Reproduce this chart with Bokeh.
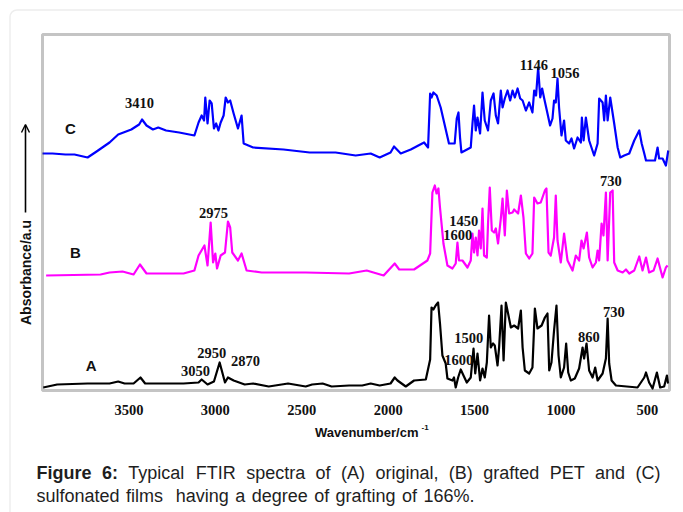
from bokeh.plotting import figure
from bokeh.models import Range1d, Label, Arrow, OpenHead, BoxAnnotation
from bokeh.embed import file_html
from bokeh.resources import INLINE

# ---------------- data (wavenumber cm-1, absorbance a.u., offset spectra) ----------------
wn_C = [4000, 3942, 3867, 3815, 3739, 3687, 3612, 3562, 3486, 3441,
        3424, 3398, 3361, 3330, 3285, 3209, 3121, 3097, 3079, 3065,
        3058, 3045, 3033, 3021, 3008, 2995, 2982, 2969, 2952, 2940,
        2927, 2914, 2894, 2869, 2848, 2836, 2781, 2605, 2454, 2304,
        2188, 2101, 2049, 1986, 1966, 1927, 1869, 1792, 1769, 1757,
        1749, 1738, 1719, 1696, 1648, 1615, 1603, 1593, 1584, 1576,
        1522, 1512, 1503, 1493, 1483, 1468, 1454, 1441, 1422, 1406,
        1390, 1377, 1364, 1348, 1338, 1325, 1309, 1294, 1280, 1267,
        1251, 1236, 1222, 1203, 1184, 1165, 1155, 1144, 1132, 1120,
        1109, 1097, 1078, 1063, 1049, 1040, 1030, 1020, 1011, 997,
        982, 972, 953, 939, 924, 904, 885, 879, 869, 856,
        837, 808, 788, 779, 759, 750, 740, 730, 715, 692,
        672, 657, 634, 605, 576, 547, 533, 518, 508, 476,
        456, 441, 432, 412, 393, 379]
ab_C = [2.37, 2.37, 2.36, 2.36, 2.33, 2.39, 2.48, 2.56, 2.61, 2.66,
        2.71, 2.65, 2.61, 2.63, 2.60, 2.58, 2.55, 2.68, 2.75, 2.70,
        2.93, 2.67, 2.90, 2.87, 2.62, 2.67, 2.60, 2.68, 2.75, 2.93,
        2.88, 2.90, 2.77, 2.62, 2.75, 2.47, 2.43, 2.41, 2.38, 2.38,
        2.35, 2.37, 2.33, 2.38, 2.44, 2.37, 2.41, 2.48, 2.43, 2.97,
        2.93, 2.98, 2.95, 2.83, 2.47, 2.47, 2.72, 2.78, 2.53, 2.38,
        2.43, 2.67, 2.85, 2.60, 2.73, 2.57, 2.98, 2.70, 2.60, 2.90,
        2.97, 2.75, 2.67, 3.00, 2.83, 2.92, 3.00, 2.90, 3.00, 2.93,
        3.02, 2.92, 2.90, 2.80, 2.88, 2.78, 3.00, 2.95, 3.23, 2.93,
        3.02, 2.92, 2.77, 2.65, 2.72, 2.90, 2.88, 3.12, 2.83, 2.55,
        2.70, 2.50, 2.47, 2.52, 2.42, 2.53, 2.48, 2.73, 2.50, 2.73,
        2.50, 2.35, 2.47, 2.92, 2.88, 2.70, 2.95, 2.70, 2.93, 2.67,
        2.43, 2.33, 2.35, 2.37, 2.50, 2.60, 2.47, 2.37, 2.30, 2.30,
        2.30, 2.43, 2.32, 2.32, 2.25, 2.40]

wn_B = [3979, 3664, 3612, 3537, 3473, 3436, 3398, 3184, 3121, 3097,
        3063, 3045, 3027, 3013, 3000, 2990, 2969, 2944, 2927, 2914,
        2902, 2869, 2848, 2819, 2732, 2477, 2226, 2124, 2026, 1962,
        1936, 1850, 1773, 1757, 1744, 1730, 1720, 1709, 1700, 1680,
        1657, 1628, 1609, 1599, 1590, 1570, 1541, 1522, 1512, 1503,
        1493, 1483, 1474, 1464, 1454, 1445, 1429, 1422, 1412, 1400,
        1387, 1377, 1364, 1348, 1338, 1325, 1313, 1300, 1280, 1271,
        1248, 1232, 1217, 1203, 1184, 1165, 1155, 1136, 1117, 1093,
        1084, 1072, 1059, 1040, 1030, 1020, 1001, 982, 962, 933,
        914, 895, 881, 869, 850, 837, 817, 798, 788, 779,
        765, 754, 740, 730, 715, 701, 692, 672, 643, 624,
        605, 576, 547, 528, 508, 490, 464, 441, 412, 393, 383]
ab_B = [1.15, 1.16, 1.18, 1.19, 1.16, 1.26, 1.17, 1.17, 1.20, 1.35,
        1.45, 1.25, 1.68, 1.28, 1.37, 1.22, 1.35, 1.38, 1.69, 1.63,
        1.38, 1.30, 1.37, 1.20, 1.18, 1.18, 1.17, 1.20, 1.15, 1.27,
        1.21, 1.21, 1.30, 1.37, 1.98, 2.05, 1.97, 2.02, 1.83, 1.47,
        1.25, 1.22, 1.27, 1.48, 1.30, 1.30, 1.23, 1.30, 1.57, 1.38,
        1.53, 1.35, 1.60, 1.42, 1.82, 1.35, 1.33, 1.67, 2.03, 1.60,
        1.58, 1.62, 1.47, 1.72, 1.92, 1.55, 2.00, 1.77, 1.78, 1.81,
        1.77, 1.95, 1.73, 1.37, 1.32, 1.37, 1.93, 1.87, 1.88, 2.00,
        2.02, 1.38, 1.35, 1.53, 1.95, 1.50, 1.28, 1.57, 1.30, 1.20,
        1.35, 1.30, 1.50, 1.42, 1.58, 1.33, 1.23, 1.28, 1.40, 1.30,
        1.67, 1.55, 1.98, 1.30, 1.98, 2.00, 1.28, 1.20, 1.18, 1.21,
        1.17, 1.20, 1.34, 1.20, 1.33, 1.18, 1.20, 1.32, 1.13, 1.23, 1.25]

wn_A = [3996, 3915, 3739, 3612, 3562, 3525, 3473, 3433, 3406, 3184,
        3097, 3079, 3045, 3008, 2975, 2958, 2944, 2927, 2894, 2830,
        2781, 2691, 2579, 2477, 2440, 2379, 2327, 2226, 2150, 2101,
        2049, 1986, 1962, 1946, 1898, 1850, 1782, 1757, 1749, 1738,
        1725, 1711, 1700, 1686, 1667, 1657, 1628, 1619, 1609, 1595,
        1580, 1564, 1545, 1522, 1506, 1496, 1483, 1468, 1454, 1441,
        1429, 1416, 1406, 1393, 1383, 1367, 1358, 1344, 1332, 1319,
        1306, 1290, 1271, 1248, 1232, 1222, 1209, 1184, 1165, 1151,
        1136, 1112, 1093, 1078, 1068, 1055, 1040, 1026, 1014, 1001,
        982, 970, 958, 943, 920, 895, 875, 866, 852, 837,
        817, 802, 788, 759, 740, 730, 721, 707, 682, 557,
        518, 508, 490, 470, 445, 426, 403, 387, 380]
ab_A = [0.03, 0.06, 0.07, 0.07, 0.09, 0.07, 0.07, 0.13, 0.07, 0.07,
        0.08, 0.11, 0.06, 0.09, 0.28, 0.17, 0.08, 0.13, 0.10, 0.06,
        0.07, 0.04, 0.07, 0.04, 0.06, 0.07, 0.04, 0.05, 0.05, 0.07,
        0.05, 0.07, 0.13, 0.10, 0.04, 0.10, 0.11, 0.31, 0.83, 0.81,
        0.85, 0.88, 0.67, 0.35, 0.27, 0.12, 0.10, 0.13, 0.03, 0.13,
        0.21, 0.15, 0.08, 0.13, 0.42, 0.17, 0.37, 0.10, 0.22, 0.13,
        0.28, 0.75, 0.43, 0.47, 0.45, 0.25, 0.43, 0.85, 0.30, 0.88,
        0.77, 0.63, 0.65, 0.62, 0.80, 0.43, 0.20, 0.17, 0.23, 0.82,
        0.62, 0.65, 0.73, 0.77, 0.20, 0.28, 0.60, 0.85, 0.35, 0.13,
        0.23, 0.47, 0.18, 0.10, 0.12, 0.22, 0.43, 0.32, 0.47, 0.20,
        0.13, 0.23, 0.10, 0.17, 0.32, 0.72, 0.27, 0.10, 0.05, 0.03,
        0.13, 0.18, 0.08, 0.02, 0.18, 0.03, 0.04, 0.15, 0.07]

x_ticks = [3500, 3000, 2500, 2000, 1500, 1000, 500]
x_tick_labels = ["3500", "3000", "2500", "2000", "1500", "1000", "500"]

# peak annotations: text, wavenumber, a.u.
peak_text = ["3410", "1146", "1056", "2975", "1450", "1600", "730",
             "1500", "1600", "860", "730", "2950", "2870", "3050"]
peak_wn = [3438, 1157, 977, 3010, 1562, 1597, 711,
           1533, 1591, 839, 694, 3021, 2825, 3114]
peak_ab = [2.88, 3.26, 3.18, 1.78, 1.70, 1.56, 2.10,
           0.53, 0.31, 0.54, 0.79, 0.38, 0.30, 0.20]

series_names = ["C", "B", "A"]
series_name_wn = [3838, 3809, 3719]
series_name_ab = [2.62, 1.38, 0.25]

caption_line1 = [("Figure", True), ("6:", True), ("Typical", False), ("FTIR", False),
                 ("spectra", False), ("of", False), ("(A)", False), ("original,", False),
                 ("(B)", False), ("grafted", False), ("PET", False), ("and", False), ("(C)", False)]
caption_line2 = ["sulfonated", "films", "", "having", "a", "degree", "of", "grafting", "of", "166%."]

# ---------------- layout ----------------
W, H = 683, 512
# data extent of the whole canvas (plot box: 4000..372 cm-1, 0..3.56 a.u.)
X0, X1 = 4243.0, 291.0
Y0, Y1 = -1.22, 3.90
CM_PER_PX = (X0 - X1) / W


def X(cx):
    return X0 - cx * CM_PER_PX


def Y(cy):
    return Y1 - cy * (Y1 - Y0) / H


p = figure(width=W, height=H, output_backend="svg", toolbar_location=None,
           x_range=Range1d(X0, X1), y_range=Range1d(Y0, Y1),
           x_axis_location=None, y_axis_location=None, min_border=0)
p.title.visible = False
p.grid.visible = False
p.background_fill_color = "white"
p.border_fill_color = "white"
p.outline_line_color = None

# card border (rounded, light gray)
p.add_layout(BoxAnnotation(left=X(9.5), right=X(W + 30), top=Y(9.5), bottom=Y(H + 30),
                           fill_color=None, line_color="#c4c4c4", line_width=1.5,
                           border_radius=7, level="underlay"))

# spectra
p.line(wn_C, ab_C, line_color="#0000ff", line_width=2.2, line_join="round")
p.line(wn_B, ab_B, line_color="#ff00ff", line_width=2.2, line_join="round")
p.line(wn_A, ab_A, line_color="#000000", line_width=2.2, line_join="round")

# plot box
p.add_layout(BoxAnnotation(left=4000, right=372, bottom=0, top=3.56,
                           fill_color=None, line_color="#3c3c3c", line_width=3))

# x tick labels
for t, s in zip(x_ticks, x_tick_labels):
    p.add_layout(Label(x=t, y=Y(409), text=s, text_align="center", text_baseline="middle",
                       text_font="Liberation Serif", text_font_style="bold",
                       text_font_size="14.5px", text_color="#111111"))

for t, xw, ya in zip(peak_text, peak_wn, peak_ab):
    p.add_layout(Label(x=xw, y=ya, text=t, text_align="center", text_baseline="middle",
                       text_font="Liberation Serif", text_font_style="bold",
                       text_font_size="14.5px", text_color="#111111"))

for t, xw, ya in zip(series_names, series_name_wn, series_name_ab):
    p.add_layout(Label(x=xw, y=ya, text=t, text_align="center", text_baseline="middle",
                       text_font="Liberation Sans", text_font_style="bold",
                       text_font_size="15px", text_color="#111111"))

# x-axis title with superscript
p.add_layout(Label(x=X(418), y=Y(432), text="Wavenumber/cm", text_align="right",
                   text_baseline="middle", text_font="Liberation Sans",
                   text_font_style="bold", text_font_size="13px", text_color="#111111"))
p.add_layout(Label(x=X(421), y=Y(427), text="-1", text_align="left", text_baseline="middle",
                   text_font="Liberation Sans", text_font_style="bold",
                   text_font_size="8px", text_color="#111111"))

# y-axis title + arrow
p.add_layout(Label(x=X(25), y=Y(272), text="Absorbance/a.u", angle=90, angle_units="deg",
                   text_align="center", text_baseline="middle",
                   text_font="Liberation Sans", text_font_style="bold",
                   text_font_size="14px", text_color="#111111"))
p.add_layout(Arrow(x_start=X(25), y_start=Y(212), x_end=X(25), y_end=Y(124),
                   line_color="black", line_width=1.6,
                   end=OpenHead(size=8, line_width=1.4, line_color="black")))

# caption (justified lines)
HELV = {' ': 278, '(': 333, ')': 333, ',': 278, '.': 278, ':': 278, '%': 889,
        'A': 667, 'B': 667, 'C': 722, 'E': 667, 'F': 611, 'I': 278, 'P': 667,
        'R': 722, 'T': 611, 'i': 222, 'l': 222, 'f': 278, 't': 278, 'r': 333,
        'm': 833, 's': 500, 'c': 500, 'v': 500, 'y': 500, 'k': 500, 'w': 722}
HELV_B = {' ': 278, ':': 333, 'F': 611, 'i': 278, 'g': 611, 'u': 611, 'r': 389, 'e': 556}


def text_w(s, size, bold):
    table = HELV_B if bold else HELV
    return sum(table.get(ch, 556) for ch in s) * size / 1000.0


CAP_SIZE = 18


def justified(words, left, right, base_cy):
    widths = [text_w(w, CAP_SIZE, b) for w, b in words]
    gap = (right - left - sum(widths)) / (len(words) - 1)
    cx = left
    for (w, b), ww in zip(words, widths):
        if w:
            p.add_layout(Label(x=X(cx), y=Y(base_cy), text=w, text_align="left",
                               text_baseline="alphabetic", text_font="Liberation Sans",
                               text_font_style="bold" if b else "normal",
                               text_font_size="%.1fpx" % CAP_SIZE, text_color="#1e1e1e"))
        cx += ww + gap


justified(caption_line1, 36, 660, 472)
justified([(w, False) for w in caption_line2], 36, 474, 495)

open("out.html", "w").write(file_html(p, INLINE))
